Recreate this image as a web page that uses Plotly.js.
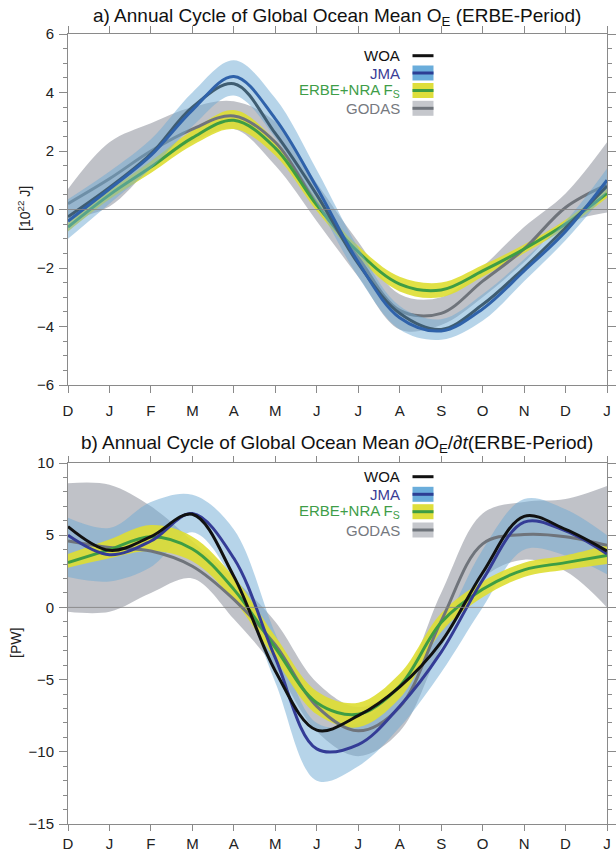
<!DOCTYPE html>
<html><head><meta charset="utf-8">
<script src="https://cdn.plot.ly/plotly-3.0.1.min.js"></script>
<style>html,body{margin:0;padding:0;background:#fff}</style>
</head><body><div id="chart" style="width:616px;height:853px"></div>
<script>
// ---- axis categories ----
const monthIndex = [0,1,2,3,4,5,6,7,8,9,10,11,12,13];
const monthLabels = ['D','J','F','M','A','M','J','J','A','S','O','N','D','J'];

// ---- panel a: O_E [10^22 J] ----
const aWOA   = [-0.25, 0.75, 1.9, 3.5, 4.3, 2.6, 0.5, -1.85, -3.55, -4.1, -3.25, -2.0, -0.63, 0.8];
const aJMA   = [-0.4, 0.7, 1.85, 3.4, 4.55, 3.1, 0.75, -1.8, -3.7, -4.15, -3.4, -2.1, -0.75, 1.0];
const aJMAlo = [-1.0, 0.2, 1.4, 2.85, 3.9, 2.45, 0.2, -2.3, -4.1, -4.45, -3.8, -2.45, -1.05, 0.6];
const aJMAhi = [0.35, 1.3, 2.4, 4.0, 5.1, 3.8, 1.35, -1.3, -3.3, -3.75, -2.9, -1.7, -0.4, 1.4];
const aERBE  = [-0.6, 0.5, 1.45, 2.45, 3.05, 2.1, 0.15, -1.45, -2.55, -2.75, -2.1, -1.35, -0.5, 0.55];
const aERBElo= [-0.75, 0.35, 1.25, 2.2, 2.75, 1.85, -0.05, -1.65, -2.8, -3.0, -2.3, -1.5, -0.65, 0.4];
const aERBEhi= [-0.45, 0.65, 1.65, 2.7, 3.4, 2.35, 0.35, -1.25, -2.3, -2.5, -1.9, -1.2, -0.35, 0.7];
const aGOD   = [0.2, 1.05, 2.0, 2.75, 3.2, 2.3, 0.2, -1.65, -3.45, -3.55, -2.45, -1.35, 0.07, 0.85];
const aGODlo = [-0.35, 0.1, 1.4, 2.3, 2.75, 1.5, -0.4, -2.3, -4.1, -3.95, -3.0, -1.8, -0.5, -0.1];
const aGODhi = [0.7, 2.3, 2.95, 3.5, 3.7, 3.0, 0.9, -1.1, -2.9, -3.0, -1.95, -0.6, 0.55, 2.3];

// ---- panel b: dO_E/dt [PW] ----
const bWOA   = [5.6, 3.95, 4.9, 6.45, 2.15, -4.4, -8.5, -7.5, -5.5, -2.4, 2.4, 6.3, 5.4, 3.9];
const bJMA   = [5.0, 3.65, 4.6, 6.5, 3.4, -3.5, -9.8, -9.5, -6.85, -3.1, 1.9, 5.9, 5.3, 3.7];
const bJMAlo = [2.1, 1.8, 2.8, 5.2, 1.8, -5.2, -12.0, -11.0, -8.3, -4.5, 0.0, 4.0, 3.6, 2.3];
const bJMAhi = [6.2, 5.5, 7.3, 7.8, 5.4, -1.8, -8.0, -8.0, -5.5, -1.6, 4.0, 7.5, 6.8, 5.0];
const bERBE  = [3.1, 4.0, 4.9, 4.05, 1.25, -2.8, -6.6, -7.4, -5.45, -1.05, 1.25, 2.6, 3.1, 3.6];
const bERBElo= [2.75, 3.4, 3.9, 3.2, 0.5, -3.6, -7.4, -8.3, -6.3, -1.7, 0.7, 2.1, 2.6, 3.0];
const bERBEhi= [3.7, 4.7, 5.7, 4.9, 2.1, -2.0, -5.8, -6.6, -4.6, -0.4, 1.8, 3.1, 3.6, 4.3];
const bGOD   = [4.6, 4.15, 3.9, 2.85, 0.55, -2.6, -6.85, -8.55, -6.9, -0.95, 4.4, 5.05, 4.9, 4.3];
const bGODlo = [-0.3, -0.3, 1.0, 2.0, -0.8, -4.2, -8.6, -10.3, -8.6, -2.8, 2.0, 3.3, 2.5, 0.0];
const bGODhi = [8.6, 8.5, 7.0, 4.6, 2.0, -1.0, -5.2, -6.9, -5.3, 1.0, 6.5, 7.3, 7.5, 8.4];

// ---- legend names ----
const seriesNames = ['WOA', 'JMA', 'ERBE+NRA F<sub>S</sub>', 'GODAS'];

// ---- styling ----
const W = 616, H = 853;
const FONT = '"Liberation Sans", Arial, Helvetica, sans-serif';
const C = {
  woa: '#111111', jmaA: '#2f62aa', jmaB: '#343c96', jmaBand: 'rgba(110,170,212,0.5)',
  erbe: '#3e9d44', erbeBand: 'rgba(222,222,50,0.9)',
  god: '#6f747b', godBand: 'rgba(150,154,164,0.6)'
};
const nameColors = ['#111111', '#3a3d96', '#3e9d48', '#76797f'];
const PX = p => p / W, PY = p => 1 - p / H;

function band(lo, hi, color, xa, ya) {
  return [
    {x: monthIndex, y: lo, xaxis: xa, yaxis: ya, mode: 'lines', line: {width: 0, shape: 'spline', smoothing: 1}, hoverinfo: 'skip', showlegend: false},
    {x: monthIndex, y: hi, xaxis: xa, yaxis: ya, mode: 'lines', fill: 'tonexty', fillcolor: color, line: {width: 0, shape: 'spline', smoothing: 1}, hoverinfo: 'skip', showlegend: false}
  ];
}
function line(y, color, xa, ya) {
  return {x: monthIndex, y: y, xaxis: xa, yaxis: ya, mode: 'lines', line: {color: color, width: 3, shape: 'spline', smoothing: 1}, showlegend: false};
}

const traces = [
  // panel a
  ...band(aGODlo, aGODhi, C.godBand, 'x', 'y'),
  ...band(aERBElo, aERBEhi, C.erbeBand, 'x', 'y'),
  line(aGOD, C.god, 'x', 'y'),
  line(aERBE, C.erbe, 'x', 'y'),
  line(aWOA, C.woa, 'x', 'y'),
  ...band(aJMAlo, aJMAhi, C.jmaBand, 'x', 'y'),
  line(aJMA, C.jmaA, 'x', 'y'),
  // panel b
  ...band(bGODlo, bGODhi, C.godBand, 'x2', 'y2'),
  ...band(bJMAlo, bJMAhi, C.jmaBand, 'x2', 'y2'),
  ...band(bERBElo, bERBEhi, C.erbeBand, 'x2', 'y2'),
  line(bGOD, C.god, 'x2', 'y2'),
  line(bERBE, C.erbe, 'x2', 'y2'),
  line(bJMA, C.jmaB, 'x2', 'y2'),
  line(bWOA, C.woa, 'x2', 'y2')
];

const axCol = '#8a8a8a';
function xAxis(anchor, standoff, tlen) {
  return {domain: [PX(68), PX(607)], anchor: anchor, range: [0, 13], tickmode: 'array', tickvals: monthIndex, ticktext: monthLabels,
    ticks: 'outside', ticklen: tlen, tickwidth: 1, tickcolor: axCol, showline: true, linecolor: axCol, linewidth: 1, mirror: 'ticks',
    showgrid: false, zeroline: false, automargin: false, fixedrange: true, ticklabelstandoff: standoff,
    tickfont: {family: FONT, size: 15, color: '#222'}};
}
function yAxis(anchor, dom, range, dtick, minor) {
  return {domain: dom, anchor: anchor, range: range, dtick: dtick, tick0: 0, ticks: 'outside', ticklen: 8, tickwidth: 1, tickcolor: axCol,
    minor: {dtick: minor, ticks: 'outside', ticklen: 4, tickcolor: axCol, showgrid: false},
    showline: true, linecolor: axCol, linewidth: 1, mirror: 'ticks', showgrid: false, zeroline: false, automargin: false, fixedrange: true,
    ticklabelstandoff: 2,
    tickfont: {family: FONT, size: 15, color: '#222'}};
}

const annotations = [
  {text: 'a) Annual Cycle of Global Ocean Mean O<sub>E</sub> (ERBE-Period)', x: PX(337), y: PY(17), xref: 'paper', yref: 'paper', xanchor: 'center', yanchor: 'middle', showarrow: false, font: {family: FONT, size: 19, color: '#111'}},
  {text: 'b) Annual Cycle of Global Ocean Mean \u2202O<sub>E</sub>/\u2202<i>t</i>(ERBE-Period)', x: PX(337), y: PY(444), xref: 'paper', yref: 'paper', xanchor: 'center', yanchor: 'middle', showarrow: false, font: {family: FONT, size: 19, color: '#111'}},
  {text: '[10<sup>22</sup> J]', x: PX(24), y: PY(209), xref: 'paper', yref: 'paper', xanchor: 'center', yanchor: 'middle', textangle: -90, showarrow: false, font: {family: FONT, size: 14, color: '#222'}},
  {text: '[PW]', x: PX(16), y: PY(643), xref: 'paper', yref: 'paper', xanchor: 'center', yanchor: 'middle', textangle: -90, showarrow: false, font: {family: FONT, size: 14, color: '#222'}}
];
const shapes = [
  {type: 'line', xref: 'x', yref: 'y', x0: 0, x1: 13, y0: 0, y1: 0, layer: 'above', line: {color: 'rgba(130,130,130,0.85)', width: 1}},
  {type: 'line', xref: 'x2', yref: 'y2', x0: 0, x1: 13, y0: 0, y1: 0, layer: 'above', line: {color: 'rgba(130,130,130,0.85)', width: 1}}
];

function legend(rows) {
  const boxFill = [null, '#6aaddb', '#dede3c', '#c5c7cc'];
  const lineCol = ['#111111', '#2d3f94', '#3e9d44', '#6f747b'];
  rows.forEach((ry, i) => {
    annotations.push({text: seriesNames[i], x: PX(402), y: PY(ry), xref: 'paper', yref: 'paper', xanchor: 'right', yanchor: 'middle', showarrow: false,
      font: {family: FONT, size: 15, color: nameColors[i]}});
    if (boxFill[i]) shapes.push({type: 'rect', xref: 'paper', yref: 'paper', x0: PX(412.5), x1: PX(433.5), y0: PY(ry - 7.5), y1: PY(ry + 7.5), fillcolor: boxFill[i], line: {width: 0}, layer: 'above'});
    shapes.push({type: 'line', xref: 'paper', yref: 'paper', x0: PX(412.5), x1: PX(433.5), y0: PY(ry), y1: PY(ry), line: {color: lineCol[i], width: 3}, layer: 'above'});
  });
}
legend([55.7, 73, 90.5, 108.3]);
legend([476.7, 494.3, 511.7, 530]);

const layout = {
  width: W, height: H, margin: {l: 0, r: 0, t: 0, b: 0}, paper_bgcolor: '#fff', plot_bgcolor: '#fff', showlegend: false,
  xaxis: xAxis('y', 5, 7), yaxis: yAxis('x', [PY(385), PY(34)], [-6, 6], 2, 0.5),
  xaxis2: xAxis('y2', 0, 6), yaxis2: yAxis('x2', [PY(824), PY(463)], [-15, 10], 5, 1),
  annotations: annotations, shapes: shapes
};
Plotly.newPlot('chart', traces, layout, {displayModeBar: false, staticPlot: true});
</script></body></html>
